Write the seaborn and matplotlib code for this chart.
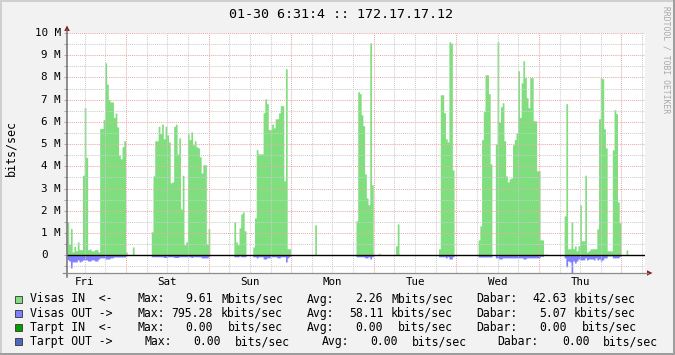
import numpy as np
import pandas as pd
import matplotlib
matplotlib.use("Agg")
import matplotlib.pyplot as plt
import matplotlib.transforms as mtransforms
from matplotlib.patches import Rectangle, Polygon
from matplotlib.lines import Line2D
import seaborn as sns

# ---------------- data ----------------
TITLE = "01-30 6:31:4 :: 172.17.17.12"
Y_LABEL = "bits/sec"
WATERMARK = "RRDTOOL / TOBI OETIKER"
DAY_LABELS = ["Fri", "Sat", "Sun", "Mon", "Tue", "Wed", "Thu"]
Y_TICKS = [0, 1, 2, 3, 4, 5, 6, 7, 8, 9, 10]
Y_TICK_LABELS = ["0", "1 M", "2 M", "3 M", "4 M", "5 M", "6 M", "7 M", "8 M", "9 M", "10 M"]
SAMPLE_HOURS = 0.5          # one sample every 30 minutes
FIRST_MIDNIGHT_H = 17.15    # hours from graph start to first midnight
SPAN_H = 168.0

# Visas IN, Mbit/s, one value per 30 min
VISAS_IN = [
    1.5, 0.5, 1.2, 0.15, 0.4, 0.2, 0.6, 0.25, 0.25, 3.6,
    6.65, 4.4, 0.25, 0.28, 0.2, 0.2, 0.25, 0.25, 0.15, 5.7,
    5.7, 6.1, 8.66, 7.7, 7.0, 6.9, 6.9, 6.2, 6.4, 5.77,
    4.5, 4.34, 4.88, 5.15, 0.15, 0, 0, 0, 0.37, 0,
    0, 0, 0, 0, 0, 0, 0, 0, 0, 1.05,
    3.57, 5.15, 5.15, 5.8, 5.47, 5.9, 5.24, 5.8, 5.42, 5.1,
    3.26, 3.3, 5.8, 5.9, 4.56, 5.28, 2.08, 3.6, 0.47, 0.6,
    5.47, 5.2, 5.55, 4.97, 5.15, 4.88, 4.83, 4.43, 3.7, 4.07,
    4.07, 0.5, 1.2, 0, 0, 0, 0, 0, 0, 0,
    0, 0, 0, 0, 0, 0, 0, 1.5, 0.6, 0.47,
    1.23, 1.86, 1.95, 1.1, 0, 0, 0, 0, 0.37, 1.68,
    4.75, 4.56, 4.56, 4.56, 6.41, 7.04, 6.82, 5.65, 5.65, 5.9,
    5.73, 6.14, 6.14, 6.41, 6.73, 6.73, 3.35, 8.39, 0.29, 0.29,
    0, 0, 0, 0, 0, 0, 0, 0, 0, 0,
    0, 0, 0, 0, 1.37, 0, 0, 0, 0, 0,
    0, 0, 0, 0, 0, 0, 0, 0, 0, 0,
    0, 0, 0, 0, 0, 0, 0, 0, 1.55, 7.36,
    7.27, 6.32, 5.83, 3.66, 2.58, 2.27, 9.56, 3.17, 0, 0,
    0, 0.09, 0, 0, 0, 0, 0, 0, 0, 0,
    0, 0.42, 1.41, 0, 0, 0, 0, 0, 0, 0,
    0, 0, 0, 0, 0, 0, 0, 0, 0, 0,
    0, 0, 0, 0, 0, 0, 0.29, 7.22, 7.22, 6.41,
    5.24, 5.1, 9.6, 9.55, 3.84, 0, 0, 0, 0, 0,
    0, 0, 0, 0, 0, 0, 0, 0, 0, 0.69,
    1.32, 5.2, 6.46, 8.12, 8.12, 7.27, 4.11, 0, 0, 5.0,
    9.6, 6.0, 6.68, 6.86, 5.15, 3.57, 3.3, 3.44, 3.48, 4.97,
    5.2, 5.5, 8.3, 6.2, 7.76, 8.75, 8.0, 7.09, 6.64, 7.99,
    7.99, 6.05, 6.05, 3.8, 3.8, 0.69, 0.69, 0, 0.06, 0,
    0, 0, 0, 0, 0, 0, 0, 0, 0, 1.77,
    6.82, 0.29, 0.29, 1.5, 0.29, 0.42, 0.2, 0.42, 2.27, 0.65,
    0.65, 3.6, 0.15, 0.2, 0.29, 0.29, 0.29, 0.29, 1.19, 6.14,
    7.99, 7.94, 5.69, 4.83, 0.2, 0.2, 0.2, 4.74, 6.55, 6.37,
    2.4, 1.46, 0, 0, 0, 0.24, 0, 0, 0, 0,
    0, 0, 0, 0, 0, 0, 0,
]

# Visas OUT, Mbit/s (drawn downwards), one value per 30 min
VISAS_OUT = [
    -0.2, -0.26, -0.57, -0.3, -0.3, -0.3, -0.21, -0.3, -0.26, -0.21,
    -0.21, -0.21, -0.26, -0.26, -0.21, -0.21, -0.26, -0.26, -0.17, -0.12,
    -0.12, -0.12, -0.17, -0.17, -0.17, -0.12, -0.12, -0.08, -0.08, -0.08,
    -0.08, -0.08, -0.08, -0.08, -0.03, 0, 0, 0, 0, 0,
    0, 0, 0, 0, 0, 0, 0, 0, 0, -0.07,
    -0.07, -0.07, -0.07, -0.07, -0.07, -0.07, -0.1, -0.1, -0.07, -0.07,
    -0.07, -0.07, -0.1, -0.1, -0.1, -0.07, -0.07, -0.07, -0.07, -0.07,
    -0.07, -0.07, -0.1, -0.07, -0.07, -0.07, -0.07, -0.07, -0.12, -0.12,
    -0.12, -0.12, -0.07, 0, 0, 0, 0, 0, 0, 0,
    0, 0, 0, 0, 0, 0, 0, -0.07, -0.07, -0.07,
    -0.03, -0.07, -0.07, -0.07, 0, 0, 0, 0, -0.07, -0.07,
    -0.12, -0.07, -0.07, -0.07, -0.17, -0.17, -0.12, -0.12, -0.07, -0.07,
    -0.07, -0.07, -0.12, -0.12, -0.07, -0.07, -0.07, -0.3, -0.12, -0.05,
    0, 0, 0, 0, 0, 0, 0, 0, 0, 0,
    0, 0, 0, 0, 0, 0, 0, 0, 0, 0,
    0, 0, 0, 0, 0, 0, 0, 0, 0, 0,
    0, 0, 0, 0, 0, 0, 0, 0, -0.07, -0.07,
    -0.07, -0.07, -0.07, -0.12, -0.12, -0.07, -0.17, -0.07, 0, 0,
    0, 0, 0, 0, 0, 0, 0, 0, 0, 0,
    0, 0, 0, 0, 0, 0, 0, 0, 0, 0,
    0, 0, 0, 0, 0, 0, 0, 0, 0, 0,
    0, 0, 0, 0, 0, 0, -0.07, -0.07, -0.07, -0.07,
    -0.12, -0.07, -0.17, -0.17, -0.07, 0, 0, 0, 0, 0,
    0, 0, 0, 0, 0, 0, 0, 0, 0, -0.08,
    -0.08, -0.08, -0.08, -0.08, -0.08, -0.08, -0.08, 0, 0, -0.12,
    -0.12, -0.17, -0.17, -0.12, -0.12, -0.12, -0.12, -0.12, -0.12, -0.12,
    -0.12, -0.12, -0.12, -0.12, -0.12, -0.17, -0.17, -0.12, -0.12, -0.12,
    -0.12, -0.12, -0.12, -0.12, -0.12, -0.05, -0.05, 0, 0, 0,
    0, 0, 0, 0, 0, 0, 0, 0, 0, -0.12,
    -0.52, -0.26, -0.3, -0.795, -0.26, -0.35, -0.26, -0.17, -0.21, -0.21,
    -0.21, -0.12, -0.21, -0.17, -0.17, -0.17, -0.21, -0.12, -0.21, -0.17,
    -0.26, -0.21, -0.12, -0.12, -0.03, -0.03, -0.03, -0.12, -0.12, -0.12,
    -0.12, -0.05, 0, 0, 0, 0, 0, 0, 0, 0,
    0, 0, 0, 0, 0, 0, 0,
]

SERIES_NAMES = ["Visas IN  <-", "Visas OUT ->", "Tarpt IN  <-", "Tarpt OUT ->"]
SERIES_MAX = ["9.61", "795.28", "0.00", "0.00"]
SERIES_MAX_UNIT = ["Mbits/sec", "kbits/sec", "bits/sec", "bits/sec"]
SERIES_AVG = ["2.26", "58.11", "0.00", "0.00"]
SERIES_AVG_UNIT = ["Mbits/sec", "kbits/sec", "bits/sec", "bits/sec"]
SERIES_CUR = ["42.63", "5.07", "0.00", "0.00"]
SERIES_CUR_UNIT = ["kbits/sec", "kbits/sec", "bits/sec", "bits/sec"]

# ---------------- style ----------------
IN_COLOR = "#7FDF7F"
OUT_COLOR = "#7F7FFF"
SERIES_COLORS = [IN_COLOR, OUT_COLOR, "#00A000", "#5068C4"]
BACK = "#F2F2F2"
GRID = "#CDCDCD"
MGRID = "#EDA8A8"
ARROW = "#7F1F1F"
MONO = "DejaVu Sans Mono"

W, H = 675, 355

fig = plt.figure(figsize=(W / 100, H / 100), dpi=100)
fig.patch.set_facecolor(BACK)

ax = fig.add_axes([67 / W, 1 - 273 / H, 578 / W, 240 / H])
ax.set_facecolor("white")

n = len(VISAS_IN)
edges = [i * SAMPLE_HOURS for i in range(n + 1)]
centers = [e + SAMPLE_HOURS / 2 for e in edges[:-1]]
df = pd.DataFrame({"t": centers, "vin": VISAS_IN, "vout": VISAS_OUT})

sns.histplot(data=df, x="t", weights="vin", bins=edges, element="step", fill=True,
             color=IN_COLOR, alpha=1, linewidth=0, ax=ax, zorder=1)
sns.histplot(data=df, x="t", weights="vout", bins=edges, element="step", fill=True,
             color=OUT_COLOR, alpha=1, linewidth=0, ax=ax, zorder=1)

ax.set_xlim(0, SPAN_H)
ax.set_ylim(-0.8, 10.0)
ax.set_xlabel("")
ax.set_ylabel("")
for s in ax.spines.values():
    s.set_visible(False)
ax.set_xticks([])
ax.set_yticks([v / 2 for v in range(-1, 21)])
ax.tick_params(axis="y", length=2.5, width=0.6, color="#9A9A9A", labelleft=False)

# grid (drawn above the areas, like rrdtool)
for k in range(-1, 20):
    v = k + 0.5
    ax.axhline(v, color=GRID, lw=0.75, ls=(0, (1, 1)), zorder=3)
for v in range(1, 11):
    ax.axhline(v, color=MGRID, lw=0.75, ls=(0, (1, 1)), zorder=3)
for k in range(-2, 28):
    h = FIRST_MIDNIGHT_H + 6 * k
    if 0 < h < SPAN_H:
        ax.axvline(h, color=MGRID if k % 4 == 0 else GRID, lw=0.75,
                   ls=(0, (1, 1)), zorder=3)
ax.axhline(0, color="black", lw=1.0, zorder=4)


def fx(x):
    return x / W


def fy(y):
    return 1 - y / H


# axis lines and arrows
fig.add_artist(Line2D([fx(67), fx(67)], [fy(277), fy(30)], color="#707070", lw=1.1))
fig.add_artist(Line2D([fx(63), fx(648)], [fy(273), fy(273)], color="#8C8C8C", lw=0.9))
fig.add_artist(Polygon([(fx(67), fy(25.5)), (fx(64.2), fy(31)), (fx(69.8), fy(31))],
                       closed=True, color=ARROW, lw=0))
fig.add_artist(Polygon([(fx(652.5), fy(273)), (fx(647), fy(270.3)), (fx(647), fy(275.7))],
                       closed=True, color=ARROW, lw=0))

# tick labels
ytrans = mtransforms.blended_transform_factory(fig.transFigure, ax.transData)
for v, lab in zip(Y_TICKS, Y_TICK_LABELS):
    x = 61 if v else 48
    ax.text(fx(x), v, lab, transform=ytrans, ha="right", va="center",
            fontsize=7.8, family=MONO, color="black")

xtrans = mtransforms.blended_transform_factory(ax.transData, fig.transFigure)
for k, lab in enumerate(DAY_LABELS):
    ax.text(FIRST_MIDNIGHT_H - 12 + 24 * k, fy(282), lab, transform=xtrans,
            ha="center", va="center", fontsize=7.8, family=MONO, color="black")

# titles
fig.text(fx(341), fy(14), TITLE, ha="center", va="center", fontsize=9.6, family=MONO)
fig.text(fx(11), fy(148), Y_LABEL, rotation=90, ha="center", va="center",
         fontsize=8.4, family=MONO)
fig.text(fx(666), fy(60), WATERMARK, rotation=270, ha="center", va="center",
         fontsize=5.8, family=MONO, color="#A8A8A8")

# legend
row_y = [299, 313.3, 327.3, 341.7]
cols = [
    [30, 137, 185.5, 221, 307, 355.5, 391, 476.5, 532.5, 574],
    [30, 137, 171.5, 221, 307, 349.5, 391, 476.5, 539.5, 574],
    [30, 137, 185.5, 228, 307, 355.5, 398, 476.5, 539.5, 581.5],
    [30, 144.5, 193, 235, 321.5, 370.5, 412, 497.5, 562, 603],
]
for i in range(4):
    yc = row_y[i]
    fig.add_artist(Rectangle((fx(15), fy(yc + 3.5)), 7 / W, 7 / H,
                             facecolor=SERIES_COLORS[i], edgecolor="#333333", lw=0.6))
    tokens = [SERIES_NAMES[i], "Max:", SERIES_MAX[i], SERIES_MAX_UNIT[i],
              "Avg:", SERIES_AVG[i], SERIES_AVG_UNIT[i],
              "Dabar:", SERIES_CUR[i], SERIES_CUR_UNIT[i]]
    for tok, x in zip(tokens, cols[i]):
        fig.text(fx(x), fy(yc), tok, ha="left", va="center", fontsize=8.3,
                 family=MONO, color="black")

# 3D frame
fig.add_artist(Rectangle((0, 0), 2 / W, 1, transform=fig.transFigure, color="#CFCFCF", lw=0))
fig.add_artist(Rectangle((0, 1 - 2 / H), 1, 2 / H, transform=fig.transFigure, color="#CFCFCF", lw=0))
fig.add_artist(Rectangle((1 - 2 / W, 0), 2 / W, 1, transform=fig.transFigure, color="#9E9E9E", lw=0))
fig.add_artist(Rectangle((0, 0), 1, 2 / H, transform=fig.transFigure, color="#9E9E9E", lw=0))

fig.savefig("out.png", dpi=100, facecolor=fig.get_facecolor())
